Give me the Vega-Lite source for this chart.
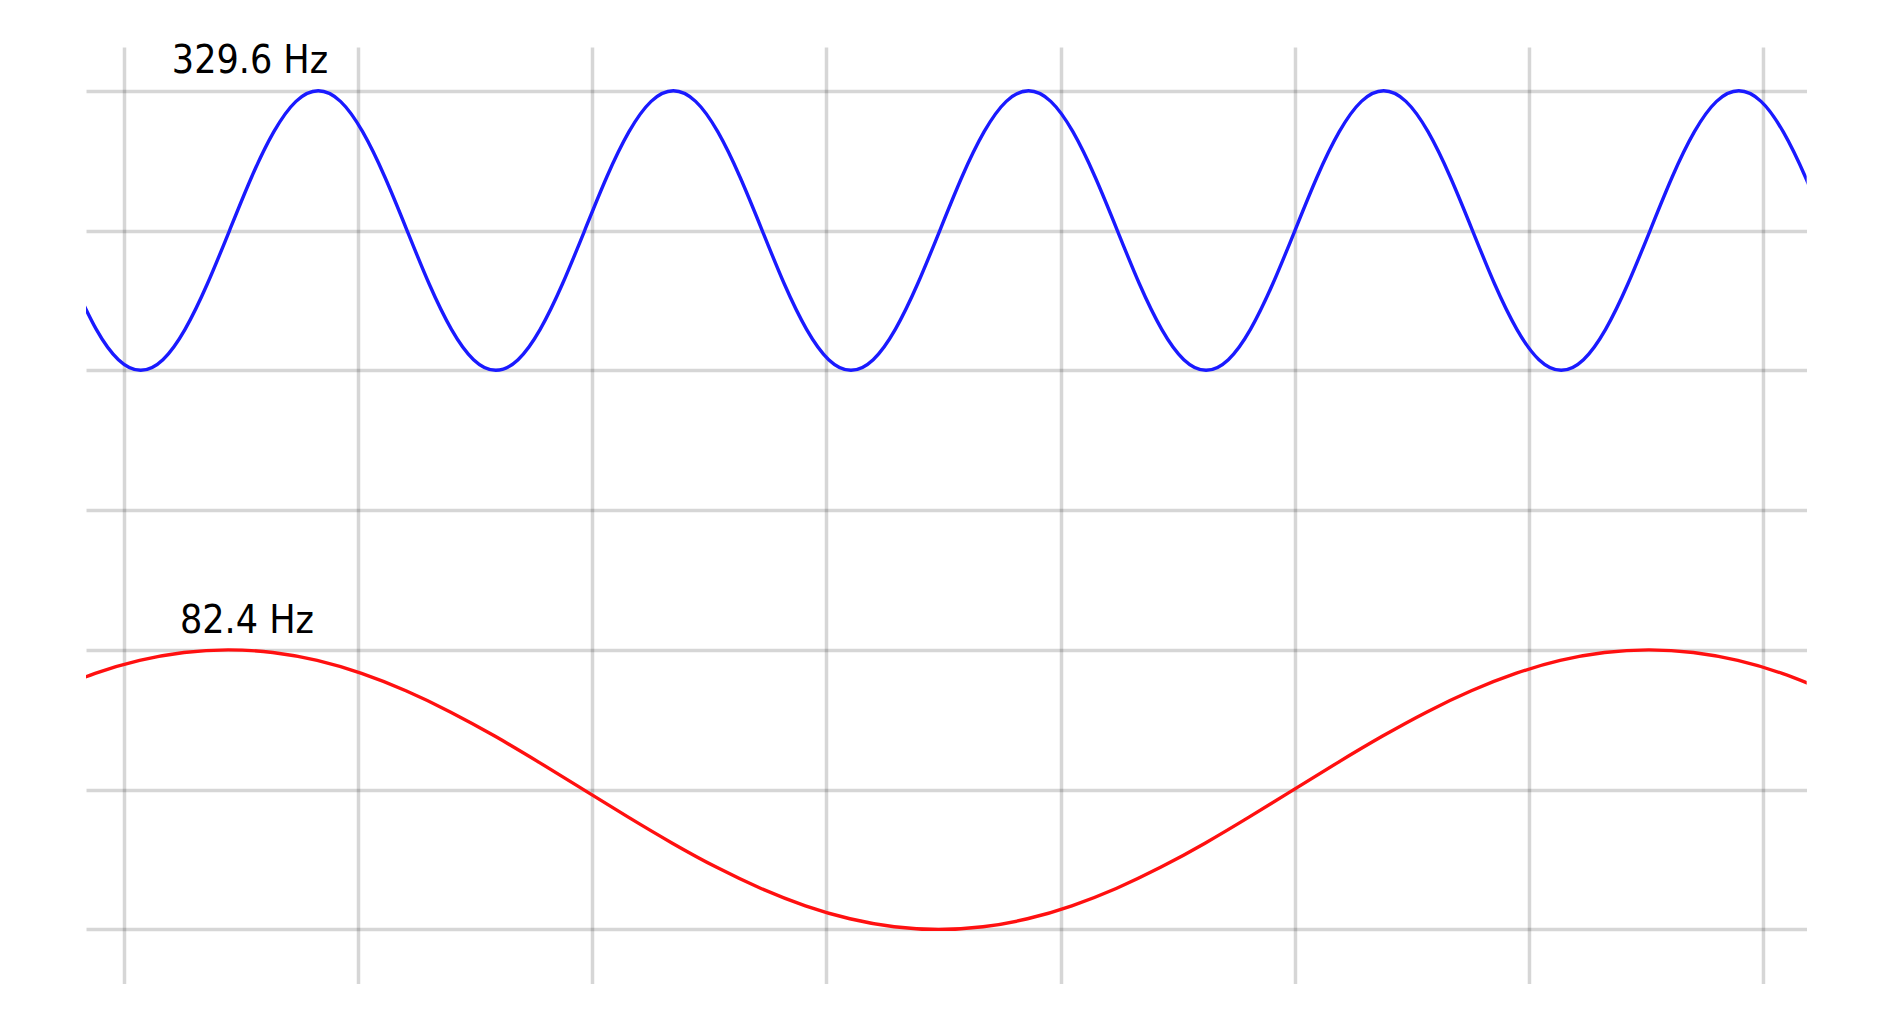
{
  "$schema": "https://vega.github.io/schema/vega-lite/v6.json",
  "width": 1720.7,
  "height": 937.4,
  "autosize": {"type": "none"},
  "padding": {"left": 86, "top": 47, "right": 0, "bottom": 0},
  "background": "white",
  "config": {"view": {"stroke": null}},
  "encoding": {
    "x": {"field": "t", "type": "quantitative", "scale": {"domain": [-0.326, 14.374], "nice": false, "zero": false},
      "axis": {"values": [0, 2, 4, 6, 8, 10, 12, 14], "labels": false, "ticks": false, "domain": false, "title": null, "grid": true, "gridColor": "#000000", "gridOpacity": 0.16, "gridWidth": 3.5}},
    "y": {"field": "v", "type": "quantitative", "scale": {"domain": [-0.3935, 6.313], "nice": false, "zero": false},
      "axis": {"values": [0, 1, 2, 3, 4, 5, 6], "labels": false, "ticks": false, "domain": false, "title": null, "grid": true, "gridColor": "#000000", "gridOpacity": 0.16, "gridWidth": 3.5}}
  },
  "layer": [
    {
      "data": {"values": [
        {"series": "329.6 Hz", "t": -0.428, "v": 4.617},
        {"series": "329.6 Hz", "t": -0.238, "v": 4.293},
        {"series": "329.6 Hz", "t": -0.049, "v": 4.076},
        {"series": "329.6 Hz", "t": 0.141, "v": 4},
        {"series": "329.6 Hz", "t": 0.331, "v": 4.076},
        {"series": "329.6 Hz", "t": 0.520, "v": 4.293},
        {"series": "329.6 Hz", "t": 0.710, "v": 4.617},
        {"series": "329.6 Hz", "t": 0.900, "v": 5},
        {"series": "329.6 Hz", "t": 1.089, "v": 5.383},
        {"series": "329.6 Hz", "t": 1.279, "v": 5.707},
        {"series": "329.6 Hz", "t": 1.468, "v": 5.924},
        {"series": "329.6 Hz", "t": 1.658, "v": 6},
        {"series": "329.6 Hz", "t": 1.848, "v": 5.924},
        {"series": "329.6 Hz", "t": 2.037, "v": 5.707},
        {"series": "329.6 Hz", "t": 2.227, "v": 5.383},
        {"series": "329.6 Hz", "t": 2.417, "v": 5},
        {"series": "329.6 Hz", "t": 2.606, "v": 4.617},
        {"series": "329.6 Hz", "t": 2.796, "v": 4.293},
        {"series": "329.6 Hz", "t": 2.985, "v": 4.076},
        {"series": "329.6 Hz", "t": 3.175, "v": 4},
        {"series": "329.6 Hz", "t": 3.365, "v": 4.076},
        {"series": "329.6 Hz", "t": 3.554, "v": 4.293},
        {"series": "329.6 Hz", "t": 3.744, "v": 4.617},
        {"series": "329.6 Hz", "t": 3.934, "v": 5},
        {"series": "329.6 Hz", "t": 4.123, "v": 5.383},
        {"series": "329.6 Hz", "t": 4.313, "v": 5.707},
        {"series": "329.6 Hz", "t": 4.502, "v": 5.924},
        {"series": "329.6 Hz", "t": 4.692, "v": 6},
        {"series": "329.6 Hz", "t": 4.882, "v": 5.924},
        {"series": "329.6 Hz", "t": 5.071, "v": 5.707},
        {"series": "329.6 Hz", "t": 5.261, "v": 5.383},
        {"series": "329.6 Hz", "t": 5.451, "v": 5},
        {"series": "329.6 Hz", "t": 5.640, "v": 4.617},
        {"series": "329.6 Hz", "t": 5.830, "v": 4.293},
        {"series": "329.6 Hz", "t": 6.019, "v": 4.076},
        {"series": "329.6 Hz", "t": 6.209, "v": 4},
        {"series": "329.6 Hz", "t": 6.399, "v": 4.076},
        {"series": "329.6 Hz", "t": 6.588, "v": 4.293},
        {"series": "329.6 Hz", "t": 6.778, "v": 4.617},
        {"series": "329.6 Hz", "t": 6.968, "v": 5},
        {"series": "329.6 Hz", "t": 7.157, "v": 5.383},
        {"series": "329.6 Hz", "t": 7.347, "v": 5.707},
        {"series": "329.6 Hz", "t": 7.536, "v": 5.924},
        {"series": "329.6 Hz", "t": 7.726, "v": 6},
        {"series": "329.6 Hz", "t": 7.916, "v": 5.924},
        {"series": "329.6 Hz", "t": 8.105, "v": 5.707},
        {"series": "329.6 Hz", "t": 8.295, "v": 5.383},
        {"series": "329.6 Hz", "t": 8.485, "v": 5},
        {"series": "329.6 Hz", "t": 8.674, "v": 4.617},
        {"series": "329.6 Hz", "t": 8.864, "v": 4.293},
        {"series": "329.6 Hz", "t": 9.053, "v": 4.076},
        {"series": "329.6 Hz", "t": 9.243, "v": 4},
        {"series": "329.6 Hz", "t": 9.433, "v": 4.076},
        {"series": "329.6 Hz", "t": 9.622, "v": 4.293},
        {"series": "329.6 Hz", "t": 9.812, "v": 4.617},
        {"series": "329.6 Hz", "t": 10.002, "v": 5},
        {"series": "329.6 Hz", "t": 10.191, "v": 5.383},
        {"series": "329.6 Hz", "t": 10.381, "v": 5.707},
        {"series": "329.6 Hz", "t": 10.570, "v": 5.924},
        {"series": "329.6 Hz", "t": 10.760, "v": 6},
        {"series": "329.6 Hz", "t": 10.950, "v": 5.924},
        {"series": "329.6 Hz", "t": 11.139, "v": 5.707},
        {"series": "329.6 Hz", "t": 11.329, "v": 5.383},
        {"series": "329.6 Hz", "t": 11.519, "v": 5},
        {"series": "329.6 Hz", "t": 11.708, "v": 4.617},
        {"series": "329.6 Hz", "t": 11.898, "v": 4.293},
        {"series": "329.6 Hz", "t": 12.087, "v": 4.076},
        {"series": "329.6 Hz", "t": 12.277, "v": 4},
        {"series": "329.6 Hz", "t": 12.467, "v": 4.076},
        {"series": "329.6 Hz", "t": 12.656, "v": 4.293},
        {"series": "329.6 Hz", "t": 12.846, "v": 4.617},
        {"series": "329.6 Hz", "t": 13.036, "v": 5},
        {"series": "329.6 Hz", "t": 13.225, "v": 5.383},
        {"series": "329.6 Hz", "t": 13.415, "v": 5.707},
        {"series": "329.6 Hz", "t": 13.604, "v": 5.924},
        {"series": "329.6 Hz", "t": 13.794, "v": 6},
        {"series": "329.6 Hz", "t": 13.984, "v": 5.924},
        {"series": "329.6 Hz", "t": 14.173, "v": 5.707},
        {"series": "329.6 Hz", "t": 14.363, "v": 5.383},
        {"series": "329.6 Hz", "t": 14.553, "v": 5},
        {"series": "82.4 Hz", "t": -0.627, "v": 1.707},
        {"series": "82.4 Hz", "t": -0.248, "v": 1.831},
        {"series": "82.4 Hz", "t": 0.132, "v": 1.924},
        {"series": "82.4 Hz", "t": 0.511, "v": 1.981},
        {"series": "82.4 Hz", "t": 0.890, "v": 2},
        {"series": "82.4 Hz", "t": 1.269, "v": 1.981},
        {"series": "82.4 Hz", "t": 1.649, "v": 1.924},
        {"series": "82.4 Hz", "t": 2.028, "v": 1.831},
        {"series": "82.4 Hz", "t": 2.407, "v": 1.707},
        {"series": "82.4 Hz", "t": 2.786, "v": 1.556},
        {"series": "82.4 Hz", "t": 3.166, "v": 1.383},
        {"series": "82.4 Hz", "t": 3.545, "v": 1.195},
        {"series": "82.4 Hz", "t": 3.924, "v": 1},
        {"series": "82.4 Hz", "t": 4.303, "v": 0.805},
        {"series": "82.4 Hz", "t": 4.683, "v": 0.617},
        {"series": "82.4 Hz", "t": 5.062, "v": 0.444},
        {"series": "82.4 Hz", "t": 5.441, "v": 0.293},
        {"series": "82.4 Hz", "t": 5.820, "v": 0.169},
        {"series": "82.4 Hz", "t": 6.200, "v": 0.076},
        {"series": "82.4 Hz", "t": 6.579, "v": 0.019},
        {"series": "82.4 Hz", "t": 6.958, "v": 0},
        {"series": "82.4 Hz", "t": 7.337, "v": 0.019},
        {"series": "82.4 Hz", "t": 7.717, "v": 0.076},
        {"series": "82.4 Hz", "t": 8.096, "v": 0.169},
        {"series": "82.4 Hz", "t": 8.475, "v": 0.293},
        {"series": "82.4 Hz", "t": 8.854, "v": 0.444},
        {"series": "82.4 Hz", "t": 9.234, "v": 0.617},
        {"series": "82.4 Hz", "t": 9.613, "v": 0.805},
        {"series": "82.4 Hz", "t": 9.992, "v": 1},
        {"series": "82.4 Hz", "t": 10.371, "v": 1.195},
        {"series": "82.4 Hz", "t": 10.751, "v": 1.383},
        {"series": "82.4 Hz", "t": 11.130, "v": 1.556},
        {"series": "82.4 Hz", "t": 11.509, "v": 1.707},
        {"series": "82.4 Hz", "t": 11.888, "v": 1.831},
        {"series": "82.4 Hz", "t": 12.268, "v": 1.924},
        {"series": "82.4 Hz", "t": 12.647, "v": 1.981},
        {"series": "82.4 Hz", "t": 13.026, "v": 2},
        {"series": "82.4 Hz", "t": 13.405, "v": 1.981},
        {"series": "82.4 Hz", "t": 13.785, "v": 1.924},
        {"series": "82.4 Hz", "t": 14.164, "v": 1.831},
        {"series": "82.4 Hz", "t": 14.543, "v": 1.707}
      ]},
      "mark": {"type": "line", "interpolate": "natural", "strokeWidth": 3.4, "clip": true},
      "encoding": {
        "color": {"field": "series", "type": "nominal", "scale": {"domain": ["329.6 Hz", "82.4 Hz"], "range": ["#1a1aff", "#ff1010"]}, "legend": null}
      }
    },
    {
      "data": {"values": [
        {"label": "329.6 Hz", "t": 1.075, "v": 6.124},
        {"label": "82.4 Hz", "t": 1.049, "v": 2.124}
      ]},
      "mark": {"type": "text", "align": "center", "baseline": "alphabetic", "fontSize": 39, "font": "'DejaVu Sans Condensed', 'Liberation Sans Narrow', 'DejaVu Sans'", "fontWeight": 300, "color": "#000000"},
      "encoding": {
        "text": {"field": "label", "type": "nominal"}
      }
    }
  ]
}
